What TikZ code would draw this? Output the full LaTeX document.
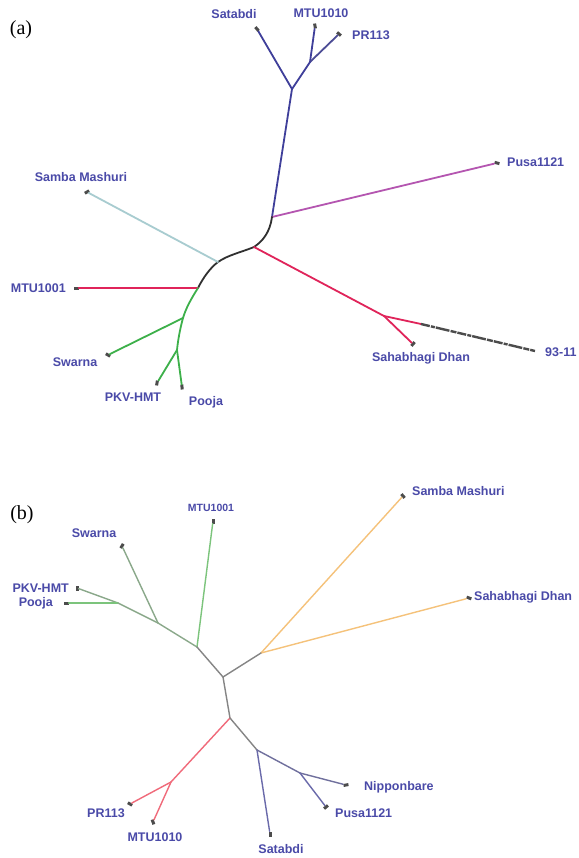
\documentclass[tikz,border=0pt]{standalone}
\usepackage{fontspec}
\setmainfont{Liberation Serif}
\newfontfamily\labfont{Liberation Sans}
\definecolor{labc}{HTML}{4A4AA8}
\definecolor{abl}{HTML}{3F3F9A}
\definecolor{apur}{HTML}{B455B0}
\definecolor{acy}{HTML}{A8CCD0}
\definecolor{ared}{HTML}{E0245A}
\definecolor{agr}{HTML}{3DB04A}
\definecolor{abk}{HTML}{303030}
\definecolor{bgr}{HTML}{7CC47C}
\definecolor{bgg}{HTML}{8AA88A}
\definecolor{bor}{HTML}{F5C27A}
\definecolor{bgy}{HTML}{858585}
\definecolor{bred}{HTML}{F06A7A}
\definecolor{bbl}{HTML}{6A6AAA}
\begin{document}
\begin{tikzpicture}[x=1pt,y=-1pt,
  lbl/.style={font=\labfont\bfseries\fontsize{12.5}{13}\selectfont, text=labc, inner sep=0pt},
  panel/.style={font=\fontsize{20}{22}\selectfont, inner sep=0pt},
  bra/.style={line width=1.8pt, line cap=round},
  brb/.style={line width=1.4pt, line cap=round},
  tipmark/.style={fill=black!70, minimum width=5pt, minimum height=3pt, inner sep=0pt},
]
\useasboundingbox[fill=white] (0,0) rectangle (578,858);

% ---------------- panel (a) ----------------
\node[panel] (pa) at (21,30) {(a)};
\coordinate (aJ1) at (310,62);
\coordinate (aJ2) at (292,89);
\coordinate (aJP) at (272,217);
\coordinate (aJS) at (254,247);
\coordinate (aJSM) at (218,262);
\coordinate (aJM) at (198,288);
\coordinate (aJSw) at (183,318);
\coordinate (aJPP) at (177,350);
\coordinate (aJSD) at (384,316);
\coordinate (aE93) at (421,324);
\coordinate (aG93) at (535,351);

\node[tipmark, rotate=-50] (aSatT) at (257,29) {};
\node[tipmark, rotate=-80] (aMtuT) at (315,26) {};
\node[tipmark, rotate=-40] (aPrT) at (339,34) {};
\node[tipmark, rotate=-15] (aPusT) at (497,163) {};
\node[tipmark, rotate=30] (aSamT) at (87,192) {};
\node[tipmark] (aM1T) at (76,288) {};
\node[tipmark, rotate=-30] (aSwT) at (108,355) {};
\node[tipmark, rotate=80] (aPkT) at (157,383) {};
\node[tipmark, rotate=95] (aPoT) at (182,387) {};
\node[tipmark, rotate=50] (aSdT) at (413,344) {};

\node[lbl] (aSat) at (234,14) {Satabdi};
\node[lbl] (aMtu) at (321,13) {MTU1010};
\node[lbl] (aPr) at (371,35) {PR113};
\node[lbl, anchor=west] (aPus) at (507,162) {Pusa1121};
\node[lbl] (aSam) at (81,177) {Samba Mashuri};
\node[lbl, anchor=east] (aM1) at (66,288) {MTU1001};
\node[lbl] (aSw) at (75,362) {Swarna};
\node[lbl] (aPk) at (133,397) {PKV-HMT};
\node[lbl] (aPo) at (206,402) {Pooja};
\node[lbl] (aSd) at (421,358) {Sahabhagi Dhan};
\node[lbl, anchor=west] (a93) at (545,352) {93-11};

\draw[bra, abl] (aSatT) -- (aJ2);
\draw[bra, abl] (aMtuT) -- (aJ1);
\draw[bra, abl!80!gray] (aPrT) -- (aJ1);
\draw[bra, abl] (aJ1) -- (aJ2);
\draw[bra, abl] (aJ2) -- (aJP);
\draw[bra, apur] (aJP) -- (aPusT);
\draw[bra, abk] (aJP) .. controls (270,232) and (263,241) .. (aJS)
  .. controls (242,252) and (228,255) .. (aJSM)
  .. controls (210,268) and (203,278) .. (aJM);
\draw[bra, acy] (aJSM) -- (aSamT);
\draw[bra, ared] (aJM) -- (aM1T);
\draw[bra, agr] (aJM) .. controls (191,299) and (186,308) .. (aJSw)
  .. controls (180,329) and (178,340) .. (aJPP);
\draw[bra, agr] (aJSw) -- (aSwT);
\draw[bra, agr] (aJPP) -- (aPkT);
\draw[bra, agr] (aJPP) -- (aPoT);
\draw[bra, ared] (aJS) -- (aJSD);
\draw[bra, ared] (aJSD) -- (aE93);
\draw[bra, ared] (aJSD) -- (aSdT);
\draw[line width=2.4pt, black!70, dash pattern=on 9pt off 1.2pt on 4pt off 1pt on 14pt off 1.2pt on 6pt off 1pt]
  (aE93) -- (aG93);

% ---------------- panel (b) ----------------
\node[panel] (pb) at (22,515) {(b)};
\coordinate (bJpp) at (118,603);
\coordinate (bJsw) at (158,623);
\coordinate (bJmtu) at (197,647);
\coordinate (bJor) at (261,653);
\coordinate (bJc) at (223,677);
\coordinate (bJlow) at (230,718);
\coordinate (bJred) at (171,782);
\coordinate (bJbl) at (257,750);
\coordinate (bJnp) at (300,773);

\node[tipmark, rotate=90] (bM1T) at (213,521) {};
\node[tipmark, rotate=60] (bSwT) at (122,546) {};
\node[tipmark, rotate=90] (bPkT) at (77,588) {};
\node[tipmark] (bPoT) at (66,603) {};
\node[tipmark, rotate=-50] (bSamT) at (403,496) {};
\node[tipmark, rotate=-20] (bSdT) at (469,598) {};
\node[tipmark, rotate=-30] (bPrT) at (130,804) {};
\node[tipmark, rotate=-70] (bMtT) at (153,822) {};
\node[tipmark, rotate=90] (bSaT) at (270,834) {};
\node[tipmark, rotate=10] (bNpT) at (346,785) {};
\node[tipmark, rotate=40] (bPuT) at (326,807) {};

\node[lbl, font=\labfont\bfseries\fontsize{10.5}{11}\selectfont] (bM1) at (211,508) {MTU1001};
\node[lbl] (bSw) at (94,533) {Swarna};
\node[lbl, anchor=east] (bPk) at (69,588) {PKV-HMT};
\node[lbl, anchor=east] (bPo) at (53,603) {Pooja};
\node[lbl, anchor=west] (bSam) at (412,491) {Samba Mashuri};
\node[lbl, anchor=west] (bSd) at (474,597) {Sahabhagi Dhan};
\node[lbl] (bPr) at (106,813) {PR113};
\node[lbl] (bMt) at (155,837) {MTU1010};
\node[lbl] (bSa) at (281,849) {Satabdi};
\node[lbl, anchor=west] (bNp) at (364,787) {Nipponbare};
\node[lbl, anchor=west] (bPu) at (335,813) {Pusa1121};

\draw[brb, bgr] (bM1T) -- (bJmtu);
\draw[brb, bgg] (bSwT) -- (bJsw);
\draw[brb, bgg] (bPkT) -- (bJpp);
\draw[brb, bgr] (bPoT) -- (bJpp);
\draw[brb, bgg] (bJpp) -- (bJsw);
\draw[brb, bgg] (bJsw) -- (bJmtu);
\draw[brb, bgy] (bJmtu) -- (bJc);
\draw[brb, bor] (bSamT) -- (bJor);
\draw[brb, bor] (bSdT) -- (bJor);
\draw[brb, bgy] (bJor) -- (bJc);
\draw[brb, bgy] (bJc) -- (bJlow);
\draw[brb, bred] (bJlow) -- (bJred);
\draw[brb, bred] (bJred) -- (bPrT);
\draw[brb, bred] (bJred) -- (bMtT);
\draw[brb, bgy] (bJlow) -- (bJbl);
\draw[brb, bbl] (bJbl) -- (bSaT);
\draw[brb, bbl!70!gray] (bJbl) -- (bJnp);
\draw[brb, bbl!70!gray] (bJnp) -- (bNpT);
\draw[brb, bbl] (bJnp) -- (bPuT);
\end{tikzpicture}
\end{document}
